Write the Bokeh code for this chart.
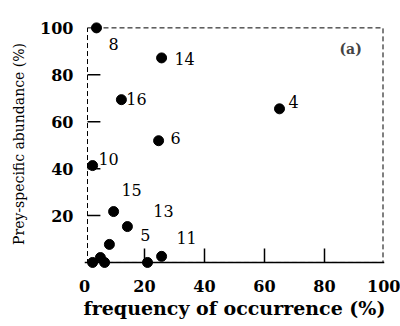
from bokeh.plotting import figure
from bokeh.models import Range1d, FixedTicker, BoxAnnotation, Label, ColumnDataSource, Span
from bokeh.embed import file_html
from bokeh.resources import INLINE
from bokeh.core.properties import value

# Data
freq_occ = [4.0, 25.7, 12.3, 24.7, 65.0, 2.7, 9.7, 14.3, 8.3, 25.7, 2.7, 5.3, 6.7, 21.0]
prey_abund = [100.0, 87.2, 69.4, 51.9, 65.5, 41.3, 21.7, 15.3, 7.7, 2.6, 0.0, 2.1, 0.0, 0.0]
prey_ids = ["8", "14", "16", "6", "4", "10", "15", "13", "5", "11", "", "", "", ""]
x_ticks = [0, 20, 40, 60, 80, 100]
y_ticks = [20, 40, 60, 80, 100]

# Label placement (screen pixel offsets from each point)
lab_dx = [17, 23, 15, 17, 14, 16, 18, 36, 36, 25, 0, 0, 0, 0]
lab_dy = [16, 1, -1, -3, -7, -7, -22, -16, -9, -18, 0, 0, 0, 0]

SERIF = "DejaVu Serif"
X_TICK_LEN = 6.0   # inward tick length (y data units)
Y_TICK_LEN = 4.3   # inward tick length (x data units)
Y_AXIS_AT = 1.0

src = ColumnDataSource(dict(x=freq_occ, y=prey_abund, t=prey_ids, dx=lab_dx, dy=lab_dy))

p = figure(width=400, height=326, output_backend="svg", toolbar_location=None,
           x_range=Range1d(0, 100), y_range=Range1d(-3, 104),
           min_border_left=84, min_border_right=16, min_border_top=18, min_border_bottom=57)
p.xgrid.visible = False
p.ygrid.visible = False
p.outline_line_color = None
p.background_fill_color = "white"
p.border_fill_color = "white"

# frame box
box = BoxAnnotation(left=Y_AXIS_AT, right=99.5, bottom=0, top=100, fill_color=None,
                    line_color="black", line_alpha=1.0, line_dash="5 3", line_width=1)
p.add_layout(box)

# solid x-axis line at y = 0
p.add_layout(Span(location=0, dimension="width", line_color="black", line_width=1.5))

# inward tick marks from the tick lists
xt_in = [t for t in x_ticks if 0 < t < 100]
p.segment(x0=xt_in, y0=[0] * len(xt_in), x1=xt_in, y1=[X_TICK_LEN] * len(xt_in),
          line_color="black", line_width=1.5)
yt_in = [t for t in y_ticks if t < 100]
p.segment(x0=[Y_AXIS_AT] * len(yt_in), y0=yt_in, x1=[Y_AXIS_AT + Y_TICK_LEN] * len(yt_in),
          y1=yt_in, line_color="black", line_width=1.5)

xl = p.xaxis[0]
xl.ticker = FixedTicker(ticks=x_ticks)
xl.axis_line_color = None
xl.major_tick_line_color = None
xl.minor_tick_line_color = None
xl.major_label_text_font = SERIF
xl.major_label_text_font_style = "bold"
xl.major_label_text_font_size = "16px"
xl.major_label_text_color = "black"
xl.major_label_standoff = 4
xl.axis_label = "frequency of occurrence (%)"
xl.axis_label_text_font = SERIF
xl.axis_label_text_font_style = "bold"
xl.axis_label_text_font_size = "19px"
xl.axis_label_text_color = "black"
xl.axis_label_standoff = 2

yl = p.yaxis[0]
yl.ticker = FixedTicker(ticks=y_ticks)
yl.axis_line_color = None
yl.major_tick_line_color = None
yl.minor_tick_line_color = None
yl.major_label_text_font = SERIF
yl.major_label_text_font_style = "bold"
yl.major_label_text_font_size = "16px"
yl.major_label_text_color = "black"
yl.major_label_standoff = 5
yl.axis_label = "Prey-specific abundance (%)"
yl.axis_label_text_font = SERIF
yl.axis_label_text_font_style = "normal"
yl.axis_label_text_font_size = "14px"
yl.axis_label_text_color = "black"
yl.axis_label_standoff = 10

p.scatter(x="x", y="y", source=src, size=10, color="black")
p.text(x="x", y="y", text="t", x_offset="dx", y_offset="dy", source=src,
       text_font=value(SERIF), text_font_size="16px", text_align="center",
       text_baseline="middle", text_color="black")

p.add_layout(Label(x=88.7, y=91, text="(a)", text_font=SERIF, text_font_style="bold",
                   text_font_size="14px", text_align="center", text_baseline="middle"))

open("out.html", "w").write(file_html(p, INLINE))
